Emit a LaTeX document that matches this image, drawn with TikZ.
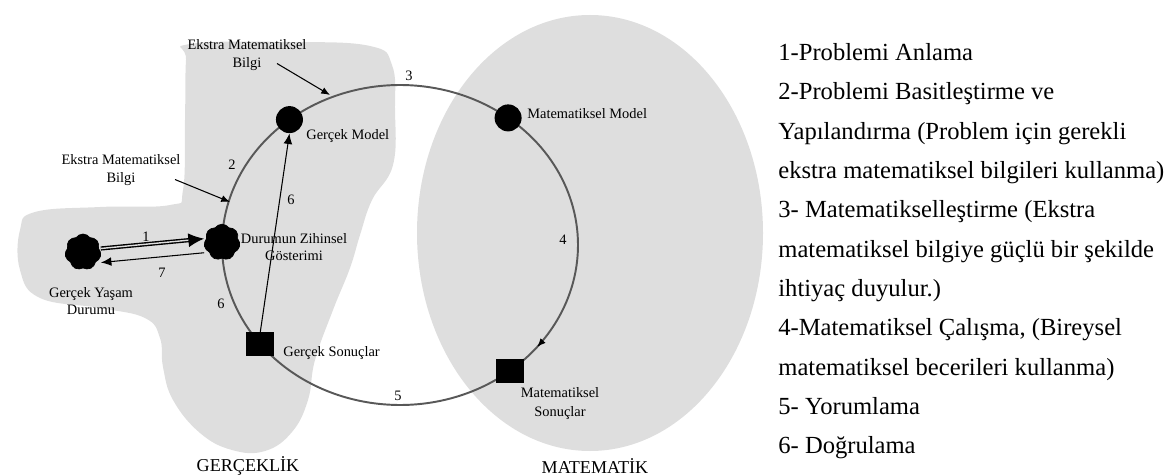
\documentclass[tikz,border=0pt]{standalone}
\usepackage{fontspec}
\setmainfont{Liberation Serif}
\usepackage{tikz}
\usetikzlibrary{shapes.symbols, decorations.markings, arrows.meta, calc}
\definecolor{blobgray}{RGB}{222,222,222}
\definecolor{ringgray}{RGB}{88,88,88}
\pgfdeclarelayer{back}
\pgfdeclarelayer{ring}
\pgfsetlayers{back,ring,main}
\tikzset{
  blob/.style={cloud, cloud puffs=7, cloud puff arc=110, aspect=1, fill=black, draw=black,
    inner sep=0pt, minimum width=0.72cm, minimum height=0.72cm},
  knot/.style={circle, fill=black, inner sep=0pt, minimum size=0.54cm},
  sq/.style={rectangle, fill=black, inner sep=0pt, minimum width=0.56cm, minimum height=0.48cm},
  small/.style={font=\fontsize{8.2}{9.8}\selectfont, inner sep=0pt},
  region/.style={font=\fontsize{10.3}{12}\selectfont, inner sep=0pt},
  ring/.style={draw=ringgray, line width=1.1pt},
  ptr/.style={-{Latex[length=5pt,width=4pt]}, line width=0.6pt},
}

\begin{document}
\begin{tikzpicture}[x=0.02cm, y=-0.02cm]
  \useasboundingbox (0,0) rectangle (1175,476);
  % the two worlds
  \begin{pgfonlayer}{back}
    \fill[blobgray] plot[smooth cycle, tension=0.7] coordinates {(190,44) (290,42) (370,46) (392,65)
      (395,110) (393,165) (372,200) (360,235) (350,268) (333,310) (315,360) (308,400) (292,432)
      (265,451) (232,450) (200,433) (173,400) (163,367) (160,338) (145,318) (100,308) (40,298)
      (20,270) (20,230) (35,212) (100,207) (170,205) (183,190) (185,120) (186,60)};
    \fill[blobgray] (590,233) ellipse [x radius=173, y radius=218];
  \end{pgfonlayer}
  \node[region] at (248,466) {GERÇEKLİK};
  \node[region] at (595,466) {MATEMATİK};

  % stations on the cycle
  \coordinate (c) at (400,245);
  \node[blob] (gy) at (83,252) {};
  \node[blob] (dz) at ([shift={(181:178 and 160)}]c) {};
  \node[knot] (gm) at ([shift={(231.6:178 and 160)}]c) {};
  \node[knot] (mm) at ([shift={(307.4:178 and 160)}]c) {};
  \node[sq] (ms) at ([shift={(51.8:178 and 160)}]c) {};
  \node[sq] (gs) at ([shift={(141.7:178 and 160)}]c) {};

  \node[small, align=center] at (91,301) {Gerçek Yaşam\\Durumu};
  \node[small, align=center] at (294,247) {Durumun Zihinsel\\Gösterimi};
  \node[small, anchor=base west] at (306,140) {Gerçek Model};
  \node[small, anchor=base west] at (527,119) {Matematiksel Model};
  \node[small, anchor=base west] at (283,356) {Gerçek Sonuçlar};
  \node[small, align=center, font=\fontsize{8.2}{10.8}\selectfont] at (560,404) {Matematiksel\\Sonuçlar};

  % cycle
  \begin{pgfonlayer}{ring}
    \draw[ring] (dz.center) arc[start angle=181, end angle=231.6, x radius=178, y radius=160];
    \draw[ring] (gm.center) arc[start angle=231.6, end angle=307.4, x radius=178, y radius=160];
    \draw[ring, postaction={decorate}, decoration={markings,
        mark=at position 0.88 with {\arrow[black]{Latex[length=5pt,width=4pt]}}}]
      (mm.center) arc[start angle=307.4, end angle=411.8, x radius=178, y radius=160];
    \draw[ring] (ms.center) arc[start angle=51.8, end angle=141.7, x radius=178, y radius=160];
    \draw[ring] (gs.center) arc[start angle=141.7, end angle=181, x radius=178, y radius=160];
  \end{pgfonlayer}
  \node[small] at (232,165) {2};
  \node[small] at (409,76) {3};
  \node[small] at (563,240) {4};
  \node[small] at (398,396) {5};
  \node[small] at (221,304) {6};

  % straight arrows
  \draw[-{Latex[length=9pt,width=8pt]}, line width=0.8pt, double=blobgray, double distance=0.8pt]
    ([yshift=2pt]gy.east) -- ([yshift=2pt]dz.west);
  \draw[-{Latex[length=6pt,width=5pt]}, line width=0.6pt] ([yshift=-6pt]dz.west) -- ([yshift=-6pt]gy.east);
  \draw[-{Latex[length=6pt,width=5pt]}, line width=0.6pt] (gs.north) -- (gm.south);
  \node[small] at (146,237) {1};
  \node[small] at (162,273) {7};
  \node[small] at (291,200) {6};

  % extra-mathematical knowledge
  \node[small, align=center] (ekup) at (247,55) {Ekstra Matematiksel\\Bilgi};
  \node[small, align=center] (eklo) at (121,170) {Ekstra Matematiksel\\Bilgi};
  \coordinate (ekupT) at (330,95);
  \coordinate (ekloT) at (230,202);
  \draw[ptr] ($(ekup.south)+(30,-7)$) -- (ekupT);
  \draw[ptr] ($(eklo.south)+(54,-6)$) -- (ekloT);

  % legend
  \node[anchor=north west, inner sep=0pt, align=left, font=\fontsize{14}{22.4}\selectfont] (lst) at (778,43)
    {1-Problemi Anlama\\
     2-Problemi Basitleştirme ve\\
     Yapılandırma (Problem için gerekli\\
     ekstra matematiksel bilgileri kullanma)\\
     3- Matematikselleştirme (Ekstra\\
     matematiksel bilgiye güçlü bir şekilde\\
     ihtiyaç duyulur.)\\
     4-Matematiksel Çalışma, (Bireysel\\
     matematiksel becerileri kullanma)\\
     5- Yorumlama\\
     6- Doğrulama};
\end{tikzpicture}
\end{document}
